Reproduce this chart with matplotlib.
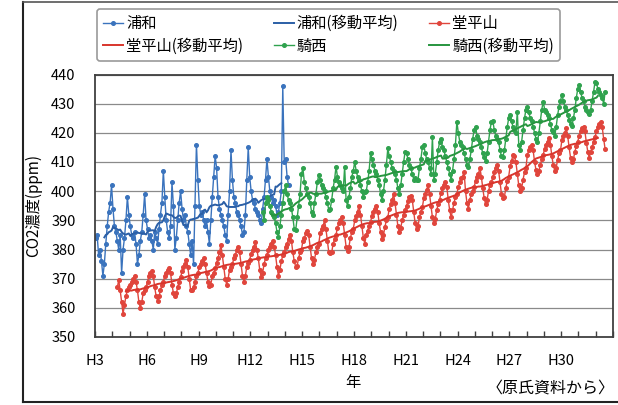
import numpy as np
import pandas as pd
import matplotlib
matplotlib.use("Agg")
import matplotlib.pyplot as plt
from matplotlib.lines import Line2D

plt.rcParams['font.family'] = ['Noto Sans CJK JP', 'DejaVu Sans']

# monthly CO2 (ppm)
# 浦和: H3 Jan - H14 Mar
urawa_start = 3
urawa = [
    384, 385, 378, 380, 376, 371, 375, 382, 388, 393, 396, 402,   # H3
    394, 388, 386, 383, 380, 385, 372, 380, 384, 390, 398, 392,   # H4
    388, 385, 384, 386, 382, 375, 378, 383, 386, 392, 399, 390,   # H5
    387, 384, 385, 383, 380, 386, 384, 382, 387, 392, 396, 407,   # H6
    398, 390, 386, 384, 388, 403, 395, 380, 384, 390, 396, 400,   # H7
    394, 390, 392, 388, 386, 382, 378, 383, 375, 395, 416, 404,   # H8
    395, 392, 393, 390, 388, 390, 386, 382, 390, 398, 405, 412,   # H9
    408, 398, 394, 392, 390, 388, 385, 383, 392, 400, 414, 404,   # H10
    398, 396, 393, 392, 390, 388, 385, 386, 392, 404, 415, 405,   # H11
    400, 397, 396, 394, 393, 392, 390, 389, 394, 398, 404, 411,   # H12
    405, 400, 398, 396, 397, 395, 392, 393, 396, 400, 436, 410,   # H13
    411, 405, 402,                                                # H14
]

# 堂平山: H4 Apr - H32 Jul
dohira_start = 4 + 3 / 12
dohira = [
    367, 369.5, 366, 362, 358, 361, 364, 366, 367,                          # H4
    368, 369, 370, 371, 369, 366, 362, 360, 362, 365, 366, 367,             # H5
    369, 371, 372, 372.5, 371, 367, 364, 362.5, 364, 366, 368, 369,         # H6
    371, 372, 373, 373.5, 372, 368, 365, 364, 365, 367, 369, 370.5,         # H7
    372.5, 374, 375, 376.5, 374, 370, 366, 366, 367, 369, 371, 372,         # H8
    374, 375, 376, 377, 375, 372, 369, 367.5, 368, 371, 372, 373.5,         # H9
    375.5, 377, 379, 381.5, 378, 374, 370, 368, 370, 373, 374, 375,         # H10
    377, 378, 380, 381, 379, 375, 371, 369, 371, 374, 375.5, 376.5,         # H11
    378.5, 380, 381, 382.5, 380, 377, 373, 370.5, 372, 375, 377, 378,       # H12
    380, 381, 382, 383, 381, 378, 374, 371, 373, 376, 378, 379,             # H13
    381, 382, 383.5, 385, 383, 379, 376, 374, 374.5, 377, 379, 380,         # H14
    383, 384, 385.5, 386.5, 385, 381, 377, 375, 376.5, 379, 381, 382,       # H15
    385.5, 387, 388, 390, 387, 383, 379, 378.8, 379, 382, 383.5, 385,       # H16
    387.5, 389, 390, 391, 389, 385, 381, 379.5, 381, 384, 386, 387,         # H17
    390, 391.5, 393, 395, 392, 388, 384, 382, 385, 386.5, 388, 389.5,       # H18
    391.5, 393, 394, 395, 393, 389, 386, 383.5, 385, 387.8, 390, 391,       # H19
    394, 395.5, 397, 399, 396, 392, 388, 386, 387.5, 390, 392, 393.5,       # H20
    395, 396.5, 398, 398.5, 397, 393, 389, 387, 388, 391, 393, 394.5,       # H21
    397.5, 399, 400.5, 402, 399, 395, 391, 389, 390.5, 393.5, 395.5, 397,   # H22
    399.5, 401, 402, 403, 401.5, 397, 393.5, 391, 393.6, 396, 398, 399,     # H23
    401.5, 403, 404.5, 405, 406.7, 400, 396, 394, 397, 399, 400, 401.5,     # H24
    403.5, 405, 406, 408, 405, 401, 397.5, 395.5, 397, 400, 402, 403,       # H25
    405, 406.5, 408, 409, 407, 403, 399, 397.6, 398, 401, 403.5, 405,       # H26
    408.5, 410.5, 412.4, 412, 410, 406, 402, 400, 401, 404, 406.5, 408,     # H27
    412.5, 414, 415, 416, 414, 410, 407.3, 406, 407, 409, 411, 412.5,       # H28
    414.5, 416, 417, 418.2, 416, 412, 409, 407, 408, 410.7, 413, 414,       # H29
    417.5, 419, 420, 421.5, 419, 415, 411.5, 410, 411, 413.5, 415.5, 417,   # H30
    419, 420.5, 421.5, 422, 420.5, 416.5, 413.5, 411.5, 413.5, 415, 417, 418.5,  # H31
    420.5, 422, 423, 423.8, 422, 418, 414.5,                                # H32
]

# 騎西: H12 Sep - H32 Jul
kisai_start = 12 + 8 / 12
kisai = [
    393, 390, 396, 398,                                                 # H12
    397, 395, 393, 392, 391, 389, 386, 384.4, 388, 392, 396, 400,       # H13
    402, 399, 397, 396, 394, 391, 387, 386.7, 391, 395, 399, 406,       # H14
    407.8, 403, 401, 399, 398, 396, 393, 392, 396, 399, 403, 405.5,     # H15
    404, 402, 401, 400, 398, 396, 393.5, 394, 397, 401, 404, 408.4,     # H16
    405, 403, 402, 401, 400, 408.4, 397, 395, 398, 401, 405, 407,       # H17
    410, 407, 405, 404, 402, 400, 398, 399.8, 400, 403, 407, 413,       # H18
    411, 409, 407, 406, 404, 402, 399, 397, 400, 404, 409, 414.7,       # H19
    412, 410, 408, 407, 406, 404, 401, 399, 402, 406, 410, 413.5,       # H20
    413, 411, 409, 408, 406, 404, 404.5, 403.8, 404, 408, 411, 415,     # H21
    416, 413, 411, 410, 408, 406, 418.7, 404, 406, 410, 414, 417,       # H22
    418, 415, 414, 412, 410, 408, 406, 404, 407, 411, 416, 423.8,       # H23
    420, 417, 416, 415, 413, 411, 409, 408.4, 411, 414, 418, 421,       # H24
    422, 419, 418, 417, 415, 413, 411.8, 410.5, 413, 417, 421, 423.8,   # H25
    424, 421, 419, 418, 417, 414, 412, 411.8, 414, 418, 422, 425,       # H26
    426, 424, 422, 421, 420, 427.3, 416, 414, 417, 421, 425, 428,       # H27
    429, 427, 425, 424, 422, 420, 418, 417, 420, 424, 428, 430.7,       # H28
    428, 427, 426, 425, 423, 421, 420.4, 419, 422, 426, 429, 431,       # H29
    433, 431, 429, 428, 426, 424.5, 423, 422.5, 425, 428, 432, 435,     # H30
    436.4, 434, 432, 431, 429, 427.8, 427, 426.5, 428, 431, 434, 437.5, # H31
    437, 435, 434, 433, 432, 430, 434,                                  # H32
]

year_ticks = list(range(3, 31, 3))
year_labels = ['H%d' % y for y in year_ticks]

blue = '#3a73bd'
red = '#e0453c'
green = '#2fa24e'


def months(start, vals):
    return start + (np.arange(len(vals)) + 0.5) / 12


def moving_avg(vals):
    return pd.Series(vals, dtype=float).rolling(12, center=True, min_periods=12).mean()


fig = plt.figure(figsize=(6.18, 4.05), dpi=100)
ax = fig.add_axes([95 / 618, 1 - 337 / 405, 518 / 618, 262.5 / 405])

series = [
    ('浦和', urawa_start, urawa, blue, '#2b5fa6'),
    ('堂平山', dohira_start, dohira, red, '#d8352c'),
    ('騎西', kisai_start, kisai, green, '#27953f'),
]

handles = []
for name, start, vals, col, macol in series:
    x = months(start, vals)
    h1, = ax.plot(x, vals, color=col, lw=1.0, marker='o', ms=2.6,
                  mec=col, mfc=col, label=name)
    h2, = ax.plot(x, moving_avg(vals), color=macol, lw=1.4,
                  label=name + '(移動平均)')
    handles += [h1, h2]

ax.set_xlim(3, 33)
ax.set_ylim(350, 440)
ax.set_yticks(range(350, 441, 10))
ax.set_xticks(year_ticks)
ax.set_xticklabels(year_labels)
ax.set_xticks(range(3, 34), minor=True)
ax.tick_params(axis='x', which='both', direction='in', length=4,
               width=1, color='#404040', labelsize=10.5, pad=12)
ax.tick_params(axis='y', length=0, labelsize=10.5, pad=14)
ax.yaxis.grid(True, color='#8a8a8a', lw=0.9)
ax.set_axisbelow(True)
for sp in ax.spines.values():
    sp.set_color('#404040')
    sp.set_linewidth(1.3)

ax.set_ylabel('CO2濃度(ppm)', fontsize=11, labelpad=6)
fig.text(353 / 618, 1 - 382 / 405, '年', fontsize=11, ha='center', va='center')
fig.text(615 / 618, 1 - 388 / 405, '〈原氏資料から〉', fontsize=11.5,
         ha='right', va='center')

# legend: 2 rows x 3 columns, filled row by row
order = [0, 3, 1, 4, 2, 5]
leg = fig.legend([handles[i] for i in order],
                 [handles[i].get_label() for i in order],
                 ncol=3, loc='center', mode='expand',
                 bbox_to_anchor=(97 / 618, 1 - 60 / 405, 463 / 618, 50 / 405),
                 fontsize=11, handlelength=1.3, handletextpad=0.2,
                 labelspacing=0.35, borderaxespad=0, fancybox=True,
                 edgecolor='#9a9a9a', framealpha=1)
leg.get_frame().set_linewidth(1.2)

# outer frame of the scanned figure
fig.add_artist(Line2D([22.5 / 618, 22.5 / 618], [1 - 401.5 / 405, 1 - 1.5 / 405],
                      transform=fig.transFigure, color='#222222', lw=1.5))
fig.add_artist(Line2D([22.5 / 618, 1], [1 - 401.5 / 405, 1 - 401.5 / 405],
                      transform=fig.transFigure, color='#222222', lw=1.5))
fig.add_artist(Line2D([22.5 / 618, 1], [1 - 1.5 / 405, 1 - 1.5 / 405],
                      transform=fig.transFigure, color='#555555', lw=1.2))

fig.savefig('out.png', dpi=100)
